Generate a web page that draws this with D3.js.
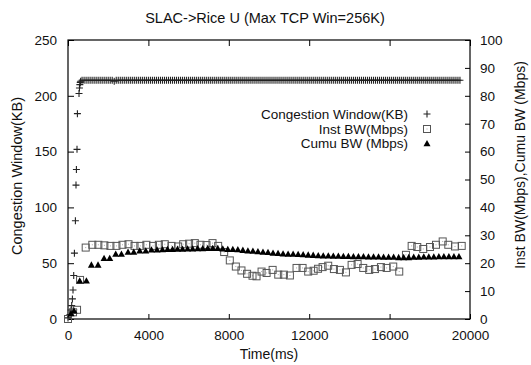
<!DOCTYPE html>
<html><head><meta charset="utf-8">
<script src="https://cdn.jsdelivr.net/npm/d3@7"></script>
<style>
body{margin:0;background:#fff;}
svg text{font-family:"Liberation Sans",Arial,Helvetica,sans-serif;fill:#111;}
</style></head>
<body><svg id="c" width="531" height="365"></svg>
<script>
const title = "SLAC->Rice U (Max TCP Win=256K)";
const xTicks = [0,4000,8000,12000,16000,20000];
const yTicks = [0,50,100,150,200,250];
const y2Ticks = [0,10,20,30,40,50,60,70,80,90,100];
const seriesNames = ["Congestion Window(KB)","Inst BW(Mbps)","Cumu BW (Mbps)"];

// Congestion window (KB): [time ms, KB]
const cwnd = [[0,1],[100,4],[150,8],[184,12],[219,18],[249,26],[284,39],[319,59],[368,88],[398,120],[418,134],[448,152],[468,184],[548,202],[570,207],[590,210],[610,212],[630,213],
[700,214],[800,214],[900,214],[1000,214],[1100,214],[1200,214],[1300,214],[1400,214],[1500,214],[1600,214],[1700,214],[1800,214],[1900,214],[2000,214],[2100,214],[2200,214],[2300,213],[2400,214],[2500,214],[2600,214],[2700,214],[2800,214],[2900,214],[3000,214],[3100,214],[3200,214],[3300,214],[3400,214],[3500,214],[3600,214],[3700,214],[3800,214],[3900,214],[4000,214],[4100,214],[4200,214],[4300,214],[4400,214],[4500,214],[4600,214],[4700,214],[4800,214],[4900,214],[5000,214],[5100,214],[5200,214],[5300,214],[5400,214],[5500,214],[5600,214],[5700,214],[5800,214],[5900,214],[6000,214],[6100,214],[6200,214],[6300,214],[6400,214],[6500,214],[6600,214],[6700,214],[6800,214],[6900,214],[7000,214],[7100,214],[7200,214],[7300,214],[7400,214],[7500,214],[7600,214],[7700,214],[7800,214],[7900,214],[8000,214],[8100,214],[8200,214],[8300,214],[8400,214],[8500,214],[8600,214],[8700,214],[8800,214],[8900,214],[9000,214],[9100,214],[9200,214],[9300,214],[9400,214],[9500,214],[9600,214],[9700,214],[9800,214],[9900,214],[10000,214],[10100,214],[10200,214],[10300,214],[10400,214],[10500,214],[10600,214],[10700,214],[10800,214],[10900,214],[11000,214],[11100,214],[11200,214],[11300,214],[11400,214],[11500,214],[11600,214],[11700,214],[11800,214],[11900,214],[12000,214],[12100,214],[12200,214],[12300,214],[12400,214],[12500,214],[12600,214],[12700,214],[12800,214],[12900,214],[13000,214],[13100,214],[13200,214],[13300,214],[13400,214],[13500,214],[13600,214],[13700,214],[13800,214],[13900,214],[14000,214],[14100,214],[14200,214],[14300,214],[14400,214],[14500,214],[14600,214],[14700,214],[14800,214],[14900,214],[15000,214],[15100,214],[15200,214],[15300,214],[15400,214],[15500,214],[15600,214],[15700,214],[15800,214],[15900,214],[16000,214],[16100,214],[16200,214],[16300,214],[16400,214],[16500,214],[16600,214],[16700,214],[16800,214],[16900,214],[17000,214],[17100,214],[17200,214],[17300,214],[17400,214],[17500,214],[17600,214],[17700,214],[17800,214],[17900,214],[18000,214],[18100,214],[18200,214],[18300,214],[18400,214],[18500,214],[18600,214],[18700,214],[18800,214],[18900,214],[19000,214],[19100,214],[19200,214],[19300,214],[19400,214],[19500,214]];

// Instantaneous BW (Mbps)
const instBW = [[0,0],[250,2.4],[450,3.3],[600,14],[880,25.6],[1210,26.6],[1510,26.6],[1810,26.4],[2110,26.2],[2410,26.2],[2710,26.6],[3010,26.8],[3310,26.2],[3600,26.2],[3900,26.6],[4230,26.2],[4520,26.6],[4815,26.8],[5150,26.2],[5480,26.0],[5730,26.8],[6025,27.0],[6310,27.2],[6590,26.6],[6890,26.5],[7190,27.2],[7470,26.2],[7770,24.0],[8050,21.0],[8350,18.8],[8630,17.4],[8910,16.2],[9180,15.5],[9380,15.3],[9630,17.0],[9880,16.5],[10180,17.6],[10460,15.9],[10740,15.9],[11040,15.6],[11370,18.3],[11670,18.3],[11950,17.0],[12220,17.3],[12440,18.0],[12666,18.6],[12946,19.1],[13229,17.9],[13528,17.6],[13827,16.7],[14110,19.4],[14409,19.7],[14688,18.3],[14987,17.6],[15271,17.9],[15569,18.6],[15853,18.3],[16181,18.8],[16480,17.0],[16814,23.0],[17097,26.2],[17377,25.8],[17675,25.1],[18009,25.8],[18308,26.6],[18641,27.8],[18920,26.6],[19254,26.0],[19587,26.2]];

// Cumulative BW (Mbps)
const cumuBW = [[150,2],[300,3],[583,13.7],[915,13.7],[1164,19.4],[1494,19.4],[1794,21.8],[2076,21.8],[2375,23.3],[2659,23.3],[2988,24.0],[3271,24.0],[3570,24.5],[3869,24.5],[4152,24.8],[4431,24.8],
[4700,24.9],[4950,25.0],[5200,25.0],[5450,25.1],[5700,25.1],[5950,25.2],[6200,25.2],[6450,25.3],[6700,25.3],[6950,25.4],[7200,25.4],[7450,25.4],[7700,25.2],[7950,25.0],[8200,25.0],[8450,24.9],[8700,24.7],[8950,24.5],[9200,24.4],[9450,24.2],[9700,24.0],[9950,23.9],[10200,23.7],[10450,23.6],[10700,23.4],[10950,23.3],[11200,23.3],[11450,23.2],[11700,23.1],[11950,23.0],[12200,22.9],[12450,22.8],[12700,22.7],[12950,22.7],[13200,22.6],[13450,22.6],[13700,22.5],[13950,22.5],[14200,22.4],[14450,22.4],[14700,22.4],[14950,22.3],[15200,22.3],[15450,22.3],[15700,22.2],[15950,22.2],[16200,22.2],[16450,22.1],[16700,22.1],[16950,22.1],[17200,22.2],[17450,22.2],[17700,22.3],[17950,22.3],[18200,22.3],[18450,22.4],[18700,22.4],[18950,22.4],[19200,22.4],[19450,22.4]];

const L=68, R=470, T=40, B=319;
const svg = d3.select("#c");
const x = d3.scaleLinear().domain([0,20000]).range([L,R]);
const y = d3.scaleLinear().domain([0,250]).range([B,T]);
const y2 = d3.scaleLinear().domain([0,100]).range([B,T]);
const FS = "13.5px";

function styleAxis(g){
  g.select(".domain").remove();
  g.selectAll(".tick line").attr("stroke","#000").attr("stroke-width",1);
  g.selectAll(".tick text").style("font-size",FS).attr("fill","#111");
}
svg.append("g").attr("transform",`translate(0,${B})`)
  .call(d3.axisBottom(x).tickValues(xTicks).tickFormat(d3.format("d")).tickSize(-5).tickPadding(11)).call(styleAxis);
svg.append("g").attr("transform",`translate(0,${T})`)
  .call(d3.axisTop(x).tickValues(xTicks).tickFormat("").tickSize(-6)).call(styleAxis);
svg.append("g").attr("transform",`translate(${L},0)`)
  .call(d3.axisLeft(y).tickValues(yTicks).tickSize(-6).tickPadding(11)).call(styleAxis);
svg.append("g").attr("transform",`translate(${R},0)`)
  .call(d3.axisRight(y2).tickValues(y2Ticks).tickSize(-5).tickPadding(10)).call(styleAxis);

svg.append("rect").attr("x",L).attr("y",T).attr("width",R-L).attr("height",B-T)
  .attr("fill","none").attr("stroke","#000").attr("stroke-width",1.2);

svg.append("text").attr("x",265).attr("y",23).attr("text-anchor","middle").style("font-size","14.5px").text(title);
svg.append("text").attr("x",269).attr("y",359).attr("text-anchor","middle").style("font-size","14px").text("Time(ms)");
svg.append("text").attr("transform","translate(22,176) rotate(-90)").attr("text-anchor","middle").style("font-size","14.5px").text("Congestion Window(KB)");
svg.append("text").attr("transform","translate(525,165) rotate(-90)").attr("text-anchor","middle").style("font-size","14px").text("Inst BW(Mbps),Cumu BW (Mbps)");

function plus(g,cx,cy){
  g.append("path").attr("d",`M${cx-3.5},${cy}H${cx+3.5}M${cx},${cy-3.5}V${cy+3.5}`)
   .attr("stroke","#222").attr("stroke-width",1.1).attr("fill","none");
}
function square(g,cx,cy){
  g.append("rect").attr("x",cx-3.5).attr("y",cy-3.5).attr("width",7).attr("height",7)
   .attr("fill","none").attr("stroke","#555").attr("stroke-width",1);
  g.append("rect").attr("x",cx-0.5).attr("y",cy-0.5).attr("width",1).attr("height",1).attr("fill","#aaa");
}
function tri(g,cx,cy){
  g.append("path").attr("d",`M${cx},${cy-3.5}L${cx+3.5},${cy+2.8}L${cx-3.5},${cy+2.8}Z`).attr("fill","#000");
}
const gc = svg.append("g");
cwnd.forEach(d=>plus(gc,x(d[0]),y(d[1])));
const gi = svg.append("g");
instBW.forEach(d=>square(gi,x(d[0]),y2(d[1])));
const gu = svg.append("g");
cumuBW.forEach(d=>tri(gu,x(d[0]),y2(d[1])));

// legend
const legY=[114,129,143.5], symX=427, txtX=408;
const lg = svg.append("g");
seriesNames.forEach((n,i)=>{
  lg.append("text").attr("x",txtX).attr("y",legY[i]).attr("dy","0.35em").attr("text-anchor","end").style("font-size",FS).text(n);
});
plus(lg,symX,legY[0]); square(lg,symX,legY[1]); tri(lg,symX,legY[2]);
</script></body></html>
